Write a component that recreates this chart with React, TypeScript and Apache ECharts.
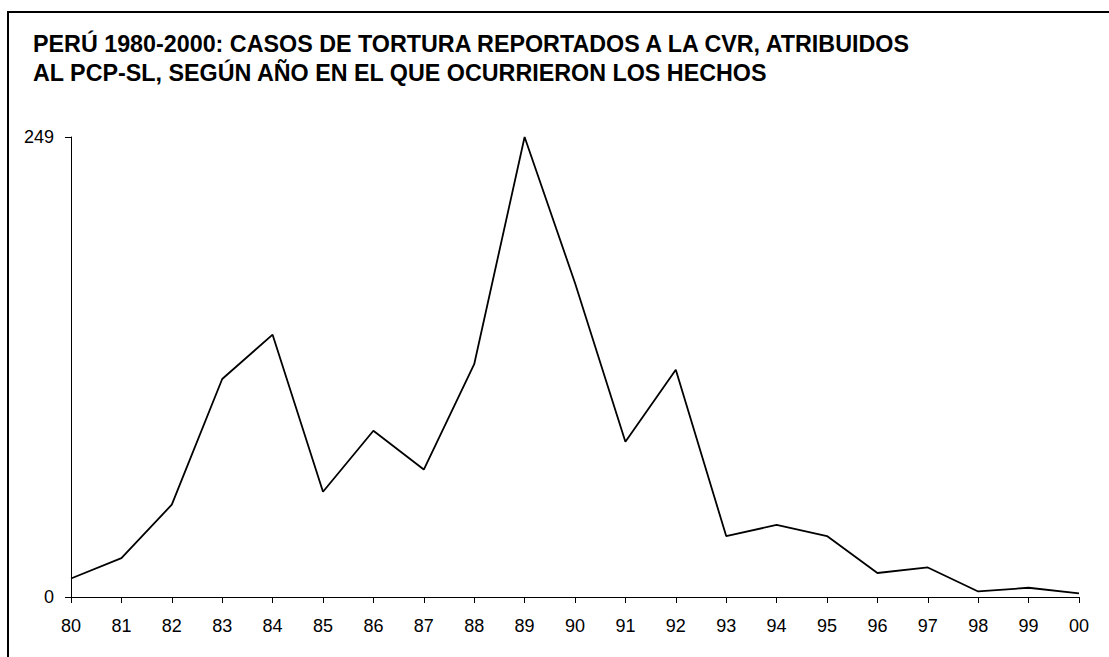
import React, { useEffect, useRef } from "react";
import * as echarts from "echarts";

const years = ["80","81","82","83","84","85","86","87","88","89","90","91","92","93","94","95","96","97","98","99","00"];
const casos = [10, 21, 50, 118, 142, 57, 90, 69, 126, 249, 170, 84, 123, 33, 39, 33, 13, 16, 3, 5, 2];
const yMin = 0;
const yMax = 249;
const titleLines = [
  "PERÚ 1980-2000: CASOS DE TORTURA REPORTADOS A LA CVR, ATRIBUIDOS",
  "AL PCP-SL, SEGÚN AÑO EN EL QUE OCURRIERON LOS HECHOS",
];

export default function App() {
  const ref = useRef<HTMLDivElement>(null);
  useEffect(() => {
    if (!ref.current) return;
    const chart = echarts.init(ref.current, null, { renderer: "svg" });
    const font = "Arial, 'Liberation Sans', Helvetica, sans-serif";
    chart.setOption({
      animation: false,
      backgroundColor: "#ffffff",
      textStyle: { fontFamily: font },
      title: {
        text: titleLines.join("\n"),
        left: 28,
        top: 24,
        textStyle: { fontSize: 23.3, fontWeight: "bold", color: "#000", lineHeight: 29, fontFamily: font },
      },
      graphic: [
        {
          type: "rect",
          shape: { x: 8, y: 12, width: 1300, height: 900 },
          style: { fill: "none", stroke: "#000", lineWidth: 2 },
          silent: true,
        },
      ],
      grid: { left: 71, right: 30, top: 137, bottom: 60, containLabel: false },
      xAxis: {
        type: "category",
        data: years,
        boundaryGap: false,
        axisLine: { lineStyle: { color: "#000", width: 1 } },
        axisTick: { show: true, length: 6, alignWithLabel: true, lineStyle: { color: "#000" } },
        axisLabel: { color: "#000", fontSize: 18, margin: 20, fontFamily: font },
        splitLine: { show: false },
      },
      yAxis: {
        type: "value",
        min: yMin,
        max: yMax,
        interval: yMax,
        axisLine: { show: true, lineStyle: { color: "#000", width: 1 } },
        axisTick: { show: true, length: 6, lineStyle: { color: "#000" } },
        axisLabel: { color: "#000", fontSize: 18, margin: 17, fontFamily: font },
        splitLine: { show: false },
      },
      series: [
        {
          type: "line",
          data: casos,
          symbol: "none",
          lineStyle: { color: "#000", width: 1.8 },
        },
      ],
    });
    return () => chart.dispose();
  }, []);
  return (
    <div
      ref={ref}
      style={{ position: "fixed", left: 0, top: 0, width: 1109, height: 657 }}
    />
  );
}
